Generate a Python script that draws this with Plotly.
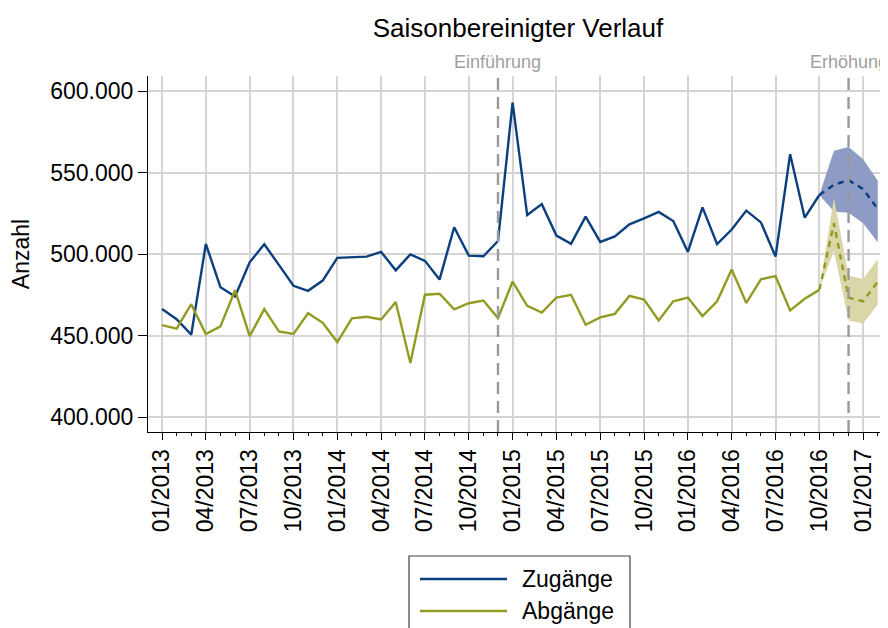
import plotly.graph_objects as go
import pandas as pd

# ---------------- data ----------------
months = [p.strftime("%m/%Y") for p in pd.period_range("2013-01", "2017-02", freq="M")]

zugaenge = [466200, 460000, 450500, 506200, 479600, 473900, 494900, 506000, 493300, 480500,
            477400, 483700, 497600, 498200, 498400, 501300, 490000, 499800, 495800, 484300,
            516400, 499000, 498600, 508000, 592900, 523900, 530600, 511300, 506200, 522900,
            507400, 510800, 518200, 521900, 525800, 520200, 501300, 528600, 506000, 515000,
            526600, 519400, 498400, 561200, 522300, 536200]
abgaenge = [456400, 454200, 469200, 450900, 455600, 477800, 449600, 466200, 452500, 450900,
            463700, 457800, 446000, 460500, 461500, 459800, 470500, 433100, 475000, 475600,
            466000, 469800, 471500, 460700, 483100, 468200, 464100, 473300, 475000, 456600,
            461100, 463300, 474300, 472100, 459200, 471000, 473300, 461900, 471000, 490500,
            470000, 484500, 486400, 465400, 472500, 478000]

# forecast 10/2016 .. 02/2017
fc_months = ["10/2016", "11/2016", "12/2016", "01/2017", "02/2017"]
zu_fc = [536200, 542500, 545300, 539800, 527600]
zu_fc_hi = [536200, 563300, 565700, 558200, 544900]
zu_fc_lo = [536200, 526100, 525300, 518800, 507200]
ab_fc = [478000, 518800, 473200, 471000, 483000]
ab_fc_hi = [478000, 534500, 486800, 484700, 497000]
ab_fc_lo = [478000, 502000, 459200, 457400, 469000]

tick_labels = ["01/2013", "04/2013", "07/2013", "10/2013", "01/2014", "04/2014", "07/2014",
               "10/2014", "01/2015", "04/2015", "07/2015", "10/2015", "01/2016", "04/2016",
               "07/2016", "10/2016", "01/2017"]
y_ticks = [400000, 450000, 500000, 550000, 600000]
event_months = ["12/2014", "12/2016"]
event_labels = ["Einführung", "Erhöhung"]
series_names = ["Zugänge", "Abgänge"]

# ---------------- style ----------------
BLUE = "#0b3f7e"
OLIVE = "#939b22"
BLUE_BAND = "#8e9bc5"
OLIVE_BAND = "#d9d7a7"
GRID = "#d4d4d4"
FONT = "Liberation Sans, Arial, sans-serif"

OFF = 8                      # page body margin
W, H = 888 - OFF, 628 - OFF  # figure size
L, T = 148 - OFF, 76 - OFF   # plot area left/top inside figure
PW, PH = 740, 356            # plot area size

idx = {m: i for i, m in enumerate(months)}
x_act = [idx[m] for m in months[:len(zugaenge)]]
x_fc = [idx[m] for m in fc_months]

fig = go.Figure()

# bands
fig.add_trace(go.Scatter(x=x_fc + x_fc[::-1], y=zu_fc_hi + zu_fc_lo[::-1], fill="toself",
                         fillcolor=BLUE_BAND, line=dict(width=0), mode="lines",
                         showlegend=False, hoverinfo="skip"))
fig.add_trace(go.Scatter(x=x_fc + x_fc[::-1], y=ab_fc_hi + ab_fc_lo[::-1], fill="toself",
                         fillcolor=OLIVE_BAND, line=dict(width=0), mode="lines",
                         showlegend=False, hoverinfo="skip"))

# actual lines
fig.add_trace(go.Scatter(x=x_act, y=zugaenge, mode="lines", name=series_names[0],
                         line=dict(color=BLUE, width=2.4), showlegend=False))
fig.add_trace(go.Scatter(x=x_act, y=abgaenge, mode="lines", name=series_names[1],
                         line=dict(color=OLIVE, width=2.4), showlegend=False))
# forecast lines
fig.add_trace(go.Scatter(x=x_fc, y=zu_fc, mode="lines", line=dict(color=BLUE, width=2.4, dash="6px,5px"),
                         showlegend=False))
fig.add_trace(go.Scatter(x=x_fc, y=ab_fc, mode="lines", line=dict(color=OLIVE, width=2.4, dash="6px,5px"),
                         showlegend=False))

# event lines + labels
for m, lab in zip(event_months, event_labels):
    fig.add_shape(type="line", xref="x", yref="paper", x0=idx[m], x1=idx[m], y0=0, y1=1,
                  line=dict(color="#9a9a9a", width=2.4, dash="12px,7px"), layer="above")
    fig.add_annotation(x=idx[m], xref="x", y=1, yref="paper", yanchor="bottom", yshift=2,
                       text=lab, showarrow=False, font=dict(family=FONT, size=18, color="#a0a0a0"))

# custom legend (box, samples, labels) – positions given in page pixels
def px(xp):
    return (xp - OFF - L) / PW
def py(yp):
    return (T + PH - (yp - OFF)) / PH

fig.add_shape(type="rect", xref="paper", yref="paper", x0=px(409), x1=px(630), y0=py(556), y1=py(660),
              line=dict(color="#404040", width=1.2), fillcolor="white", layer="above")
for name, col, yy in zip(series_names, [BLUE, OLIVE], [579, 611]):
    fig.add_shape(type="line", xref="paper", yref="paper", x0=px(420), x1=px(507), y0=py(yy), y1=py(yy),
                  line=dict(color=col, width=2.4), layer="above")
    fig.add_annotation(x=px(520), y=py(yy), xref="paper", yref="paper", xanchor="left", yanchor="middle",
                       text=name, showarrow=False, font=dict(family=FONT, size=23, color="black"))

fig.update_layout(
    width=W, height=H,
    margin=dict(l=L, r=W - L - PW, t=T, b=H - T - PH, autoexpand=False),
    paper_bgcolor="white", plot_bgcolor="white",
    separators=",.",
    font=dict(family=FONT, size=23, color="black"),
    title=dict(text="Saisonbereinigter Verlauf", x=(L + PW / 2) / W, xanchor="center",
               y=1 - (28 - OFF) / H, yanchor="middle", yref="container",
               font=dict(family=FONT, size=26, color="black")),
    showlegend=False,
)
fig.update_xaxes(
    range=[-0.96, 49.7], tickmode="array",
    tickvals=[idx[t] for t in tick_labels], ticktext=tick_labels, tickangle=-90,
    ticks="outside", ticklen=7, tickcolor="black", tickwidth=1,
    showline=True, linecolor="black", linewidth=1,
    showgrid=True, gridcolor=GRID, gridwidth=2, zeroline=False,
    minor=dict(dtick=1, tick0=0, ticks="outside", ticklen=3, tickcolor="black", showgrid=False),
    tickfont=dict(family=FONT, size=23, color="black"),
)
fig.update_yaxes(
    range=[390800, 609200], tickmode="array", tickvals=y_ticks, tickformat=",d",
    ticks="outside", ticklen=9, tickcolor="black", tickwidth=1,
    showline=True, linecolor="black", linewidth=1,
    showgrid=True, gridcolor=GRID, gridwidth=2, zeroline=False,
    tickfont=dict(family=FONT, size=23, color="black"),
    title=dict(text="Anzahl", standoff=14, font=dict(family=FONT, size=23, color="black")),
)

fig.write_html("out.html")
